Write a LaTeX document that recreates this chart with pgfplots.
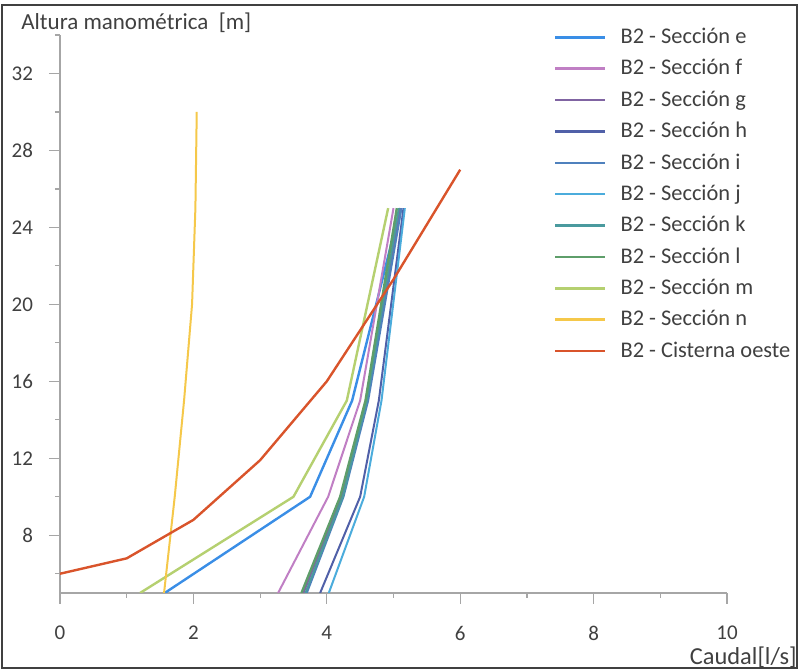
\documentclass[border=0pt]{standalone}
\usepackage{fontspec}
\setmainfont{Carlito}
\usepackage{pgfplots}
\pgfplotsset{compat=1.18}
\definecolor{cE}{HTML}{3A8EE6}
\definecolor{cF}{HTML}{C07FC4}
\definecolor{cG}{HTML}{8064A2}
\definecolor{cH}{HTML}{5060A8}
\definecolor{cI}{HTML}{4F81BD}
\definecolor{cJ}{HTML}{4BACDC}
\definecolor{cK}{HTML}{4A9A9E}
\definecolor{cL}{HTML}{5E9E6A}
\definecolor{cM}{HTML}{B5D070}
\definecolor{cN}{HTML}{F5C84A}
\definecolor{cR}{HTML}{D9542B}
\definecolor{txt}{HTML}{404040}
\begin{document}
\begin{tikzpicture}[x=0.5pt,y=0.5pt]
\draw[black!75, line width=0.8pt] (2,4) rectangle (797,667);
\begin{axis}[
    at={(30pt,39.5pt)}, anchor=origin,
    scale only axis, width=333.5pt, height=279pt,
    xmin=0, xmax=10, ymin=5, ymax=34,
    axis lines*=left,
    x axis line style={-}, y axis line style={-},
    axis line style={gray!70, line width=0.6pt},
    xtick={0,2,...,10}, minor xtick={1,3,...,9},
    ytick={8,12,...,32}, minor ytick={6,10,...,34},
    tick align=outside,
    major tick length=5.5pt, minor tick length=2.5pt,
    tick style={gray!70, line width=0.6pt},
    every tick label/.append style={font=\fontsize{10.5}{12}\selectfont, text=txt},
    /pgf/number format/assume math mode=true,
    xticklabel style={yshift=-7.5pt},
    yticklabel style={anchor=east, xshift=-4.5pt},
    legend style={at={(rel axis cs:0.74,1.02)}, anchor=north west,
        draw=none, fill=none, font=\fontsize{11.2}{13}\selectfont, text=txt,
        row sep=2.45pt, inner sep=0pt,
        /tikz/every odd column/.append style={column sep=5pt}},
    legend cell align=left,
    legend image code/.code={\draw[#1, line width=1.3pt] (0pt,0pt) -- (25pt,0pt);},
    every axis plot/.append style={line width=1pt},
]
\addplot[cE, line width=1.2pt] coordinates {(1.57,5) (3.75,10) (4.38,15) (5.10,25)};
\addlegendentry{B2 - Sección e}
\addplot[cF] coordinates {(3.27,5) (4.02,10) (4.50,15) (5.00,25)};
\addlegendentry{B2 - Sección f}
\addplot[cG] coordinates {(3.65,5) (4.22,10) (4.60,15) (5.10,25)};
\addlegendentry{B2 - Sección g}
\addplot[cH] coordinates {(3.90,5) (4.50,10) (4.78,15) (5.15,25)};
\addlegendentry{B2 - Sección h}
\addplot[cI] coordinates {(3.70,5) (4.25,10) (4.62,15) (5.12,25)};
\addlegendentry{B2 - Sección i}
\addplot[cJ] coordinates {(4.03,5) (4.56,10) (4.82,15) (5.17,25)};
\addlegendentry{B2 - Sección j}
\addplot[cK] coordinates {(3.68,5) (4.24,10) (4.60,15) (5.08,25)};
\addlegendentry{B2 - Sección k}
\addplot[cL, line width=1.2pt] coordinates {(3.62,5) (4.20,10) (4.58,15) (5.05,25)};
\addlegendentry{B2 - Sección l}
\addplot[cM, line width=1.2pt] coordinates {(1.20,5) (3.50,10) (4.30,15) (4.92,25)};
\addlegendentry{B2 - Sección m}
\addplot[cN] coordinates {(1.56,5) (1.72,10) (1.86,15) (1.98,20) (2.03,25) (2.05,30)};
\addlegendentry{B2 - Sección n}
\addplot[cR, line width=1.2pt] coordinates {(0,6) (1,6.8) (2,8.8) (3,11.9) (4,16) (5,21.3) (6,27)};
\addlegendentry{B2 - Cisterna oeste}
\end{axis}
\node[anchor=base west, text=txt, font=\fontsize{11.5}{13}\selectfont, inner sep=0pt] at (21,642) {Altura manométrica\ \ [m]};
\node[anchor=base east, text=txt, font=\fontsize{12.2}{14}\selectfont, inner sep=0pt] at (797,7) {Caudal[l/s]};
\pgfresetboundingbox
\useasboundingbox (0,0) rectangle (799,672);
\end{tikzpicture}
\end{document}
